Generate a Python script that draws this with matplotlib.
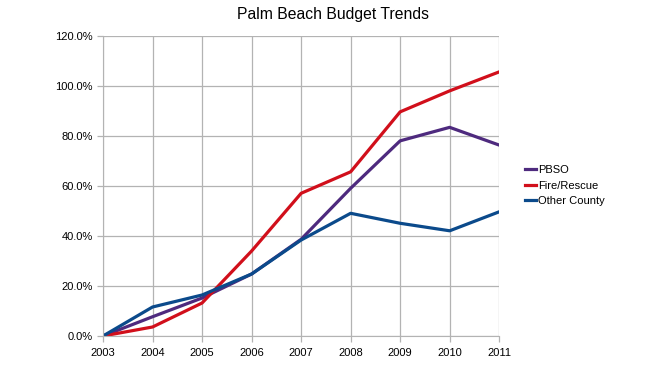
import numpy as np
import matplotlib.pyplot as plt
from matplotlib.ticker import PercentFormatter

plt.rcParams['font.family'] = ['Liberation Sans', 'DejaVu Sans']

years = [2003, 2004, 2005, 2006, 2007, 2008, 2009, 2010, 2011]
pbso = [0.0, 7.7, 15.2, 24.8, 38.7, 59.1, 78.1, 83.5, 76.4]
fire_rescue = [0.0, 3.6, 13.2, 34.0, 57.1, 65.7, 89.7, 98.1, 105.7]
other_county = [0.0, 11.6, 16.4, 24.8, 38.4, 49.1, 45.1, 42.1, 49.7]

fig = plt.figure(figsize=(6.5, 3.65), dpi=100)
ax = fig.add_axes([0.1585, 0.0795, 0.6095, 0.8215])

ax.plot(years, pbso, color='#4e2a7e', lw=2.3, label='PBSO')
ax.plot(years, fire_rescue, color='#d10f1b', lw=2.3, label='Fire/Rescue')
ax.plot(years, other_county, color='#0b4a8b', lw=2.3, label='Other County')

ax.set_xlim(2003, 2011)
ax.set_ylim(0, 120)
ax.set_xticks(years)
ax.set_yticks(np.arange(0, 121, 20))
ax.yaxis.set_major_formatter(PercentFormatter(decimals=1))
ax.grid(True, color='#b3b3b3', lw=0.9)
ax.set_axisbelow(True)
for s in ['top', 'right']:
    ax.spines[s].set_visible(False)
for s in ['left', 'bottom']:
    ax.spines[s].set_color('#b3b3b3')
ax.tick_params(axis='both', labelsize=8, color='#b3b3b3', length=4, width=0.9)
ax.tick_params(axis='x', pad=4.5)

fig.text(333 / 650, 1 - 14 / 365, 'Palm Beach Budget Trends', ha='center', va='center', fontsize=11.3)
fig.legend(loc='upper left', bbox_to_anchor=(515 / 650, 1 - 155 / 365), frameon=False,
           fontsize=8, handlelength=1.0, handletextpad=0.2, labelspacing=0.5)

fig.savefig('out.png', dpi=100)
